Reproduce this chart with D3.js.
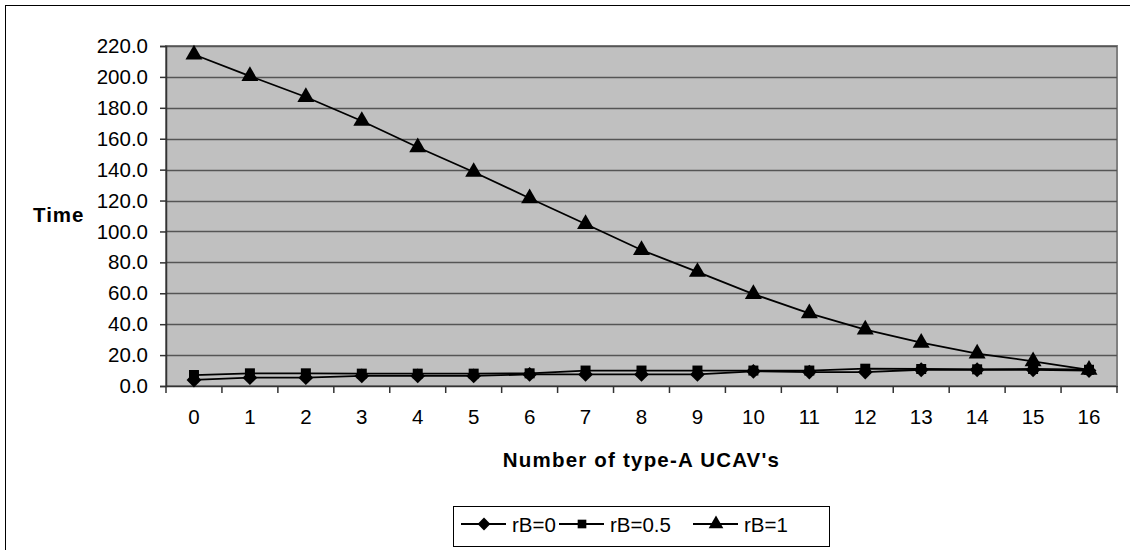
<!DOCTYPE html>
<html>
<head>
<meta charset="utf-8">
<script src="https://cdn.jsdelivr.net/npm/d3@7"></script>
<style>
  html, body { margin: 0; padding: 0; background: #fff; }
  svg { display: block; font-family: "Liberation Sans", Arial, sans-serif; }
</style>
</head>
<body>
<svg id="chart" width="1130" height="550"></svg>
<script>
// Number of type-A UCAVs on the horizontal axis
const categories = ["0","1","2","3","4","5","6","7","8","9","10","11","12","13","14","15","16"];

// Completion time per rB setting
const rB0   = [3.9, 5.4, 5.4, 6.5, 6.5, 6.5, 7.5, 7.5, 7.5, 7.5, 9.5, 9.0, 9.0, 10.5, 10.5, 10.5, 10.0];
const rB05  = [7.1, 8.2, 8.2, 8.0, 8.0, 8.0, 8.2, 10.0, 10.0, 10.0, 10.0, 10.0, 11.2, 11.0, 10.8, 11.0, 10.5];
const rB1   = [214.5, 200.5, 187.0, 171.5, 154.5, 138.5, 121.5, 104.8, 88.0, 73.8, 59.5, 47.0, 36.5, 28.0, 21.0, 16.0, 10.5];

const seriesNames = ["rB=0", "rB=0.5", "rB=1"];
const yTicks = [0, 20, 40, 60, 80, 100, 120, 140, 160, 180, 200, 220];

// square rotated 45 degrees (a wide diamond)
const symbolRhombus = {
  draw(context, size) {
    const r = Math.sqrt(size / 2);
    context.moveTo(0, -r);
    context.lineTo(r, 0);
    context.lineTo(0, r);
    context.lineTo(-r, 0);
    context.closePath();
  }
};
const seriesSymbols = [symbolRhombus, d3.symbolSquare, d3.symbolTriangle];
const markerSize = [110, 100, 125];

const series = [rB0, rB05, rB1].map((vals, i) => ({
  name: seriesNames[i], symbol: seriesSymbols[i], size: markerSize[i], values: vals
}));

const FONT = 20.5;
const svg = d3.select("#chart");

// outer chart frame (only top/left edges fall inside the canvas)
svg.append("rect")
  .attr("x", 5.5).attr("y", 5.5)
  .attr("width", 1140).attr("height", 560)
  .attr("fill", "#fff").attr("stroke", "#000").attr("stroke-width", 1);

const plot = { left: 166, top: 46, right: 1117, bottom: 386 };

const x = d3.scaleBand().domain(categories)
  .range([plot.left, plot.right]).padding(0);
const y = d3.scaleLinear().domain([0, 220])
  .range([plot.bottom, plot.top]);

// plot area background
svg.append("rect")
  .attr("x", plot.left).attr("y", plot.top)
  .attr("width", plot.right - plot.left).attr("height", plot.bottom - plot.top)
  .attr("fill", "#c0c0c0").attr("stroke", "#808080").attr("stroke-width", 2);

// horizontal gridlines
svg.append("g").selectAll("line")
  .data(yTicks.filter(t => t > 0))
  .join("line")
  .attr("x1", plot.left).attr("x2", plot.right)
  .attr("y1", d => Math.round(y(d)) + 0.5).attr("y2", d => Math.round(y(d)) + 0.5)
  .attr("stroke", "#555").attr("stroke-width", 1.5);

// y axis
const yAxis = svg.append("g")
  .attr("transform", `translate(${plot.left},0)`)
  .call(d3.axisLeft(y).tickValues(yTicks).tickFormat(d3.format(".1f")).tickSize(6).tickPadding(12));
yAxis.select(".domain").attr("stroke", "#333").attr("stroke-width", 1.5);
yAxis.selectAll(".tick line").attr("stroke", "#333").attr("stroke-width", 1.5);
yAxis.selectAll(".tick text")
  .attr("font-size", FONT).attr("fill", "#000")
  .attr("font-family", "Liberation Sans, Arial, sans-serif");

// x axis with ticks at category boundaries
const xAxis = svg.append("g")
  .attr("transform", `translate(0,${plot.bottom})`)
  .call(d3.axisBottom(x).tickSize(0).tickPadding(23));
xAxis.select(".domain").attr("stroke", "#333").attr("stroke-width", 1.5);
xAxis.selectAll(".tick text")
  .attr("font-size", FONT).attr("fill", "#000")
  .attr("font-family", "Liberation Sans, Arial, sans-serif");
const boundaries = categories.map(c => x(c)).concat([x(categories[categories.length - 1]) + x.bandwidth()]);
xAxis.append("g").selectAll("line")
  .data(boundaries)
  .join("line")
  .attr("x1", d => d).attr("x2", d => d)
  .attr("y1", 0).attr("y2", 7)
  .attr("stroke", "#333").attr("stroke-width", 1.5);

// axis titles
svg.append("text")
  .attr("x", 33).attr("y", 222)
  .attr("font-size", FONT).attr("font-weight", "bold")
  .attr("letter-spacing", 1)
  .text("Time");

svg.append("text")
  .attr("x", (plot.left + plot.right) / 2).attr("y", 467)
  .attr("text-anchor", "middle")
  .attr("font-size", FONT).attr("font-weight", "bold")
  .attr("letter-spacing", 1.2)
  .text("Number of type-A UCAV's");

// series lines and markers
const cx = c => x(c) + x.bandwidth() / 2;
const line = d3.line().x((d, i) => cx(categories[i])).y(d => y(d));

series.forEach(s => {
  svg.append("path")
    .datum(s.values)
    .attr("d", line)
    .attr("fill", "none").attr("stroke", "#000").attr("stroke-width", 1.8);
});
series.forEach(s => {
  svg.append("g").selectAll("path")
    .data(s.values)
    .join("path")
    .attr("transform", (d, i) => `translate(${cx(categories[i])},${y(d)})`)
    .attr("d", d3.symbol().type(s.symbol).size(s.size))
    .attr("fill", "#000");
});

// legend
const legend = svg.append("g");
legend.append("rect")
  .attr("x", 453.5).attr("y", 506.5)
  .attr("width", 376).attr("height", 40)
  .attr("fill", "#fff").attr("stroke", "#000").attr("stroke-width", 1);

const legendX = [461, 559, 693];
series.forEach((s, i) => {
  const g = legend.append("g").attr("transform", `translate(${legendX[i]},524)`);
  g.append("line").attr("x1", 0).attr("x2", 45).attr("y1", 0).attr("y2", 0)
    .attr("stroke", "#000").attr("stroke-width", 1.8);
  g.append("path").attr("transform", "translate(23,0)")
    .attr("d", d3.symbol().type(s.symbol).size(s.size * 0.75))
    .attr("fill", "#000");
  g.append("text").attr("x", 51).attr("y", 7.5)
    .attr("font-size", FONT).text(s.name);
});
</script>
</body>
</html>
